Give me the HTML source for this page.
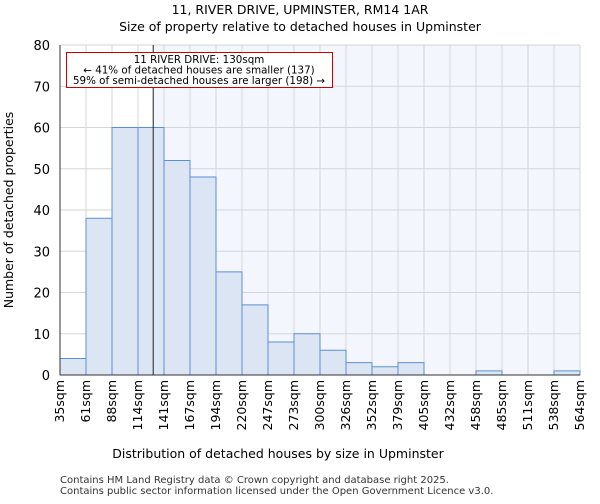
<!DOCTYPE html>
<html><head><meta charset="utf-8"><style>
body{margin:0;background:#fff;font-family:"DejaVu Sans","Liberation Sans",sans-serif}
</style></head><body>
<svg id="c" width="600" height="500" xmlns="http://www.w3.org/2000/svg" font-family="DejaVu Sans, Liberation Sans, sans-serif">
<text x="300" y="14" text-anchor="middle" font-size="12.5">11, RIVER DRIVE, UPMINSTER, RM14 1AR</text>
<text x="300" y="31" text-anchor="middle" font-size="12.5">Size of property relative to detached houses in Upminster</text>
<g id="plot"></g>
<text x="278" y="458" text-anchor="middle" font-size="12.5">Distribution of detached houses by size in Upminster</text>
<text transform="translate(13,210) rotate(-90)" text-anchor="middle" font-size="12.5">Number of detached properties</text>
<text x="60" y="483" font-size="10" fill="#333">Contains HM Land Registry data © Crown copyright and database right 2025.</text>
<text x="60" y="494" font-size="10" fill="#333">Contains public sector information licensed under the Open Government Licence v3.0.</text>
</svg>
<script>
const binLabels=["35sqm","61sqm","88sqm","114sqm","141sqm","167sqm","194sqm","220sqm","247sqm","273sqm","300sqm","326sqm","352sqm","379sqm","405sqm","432sqm","458sqm","485sqm","511sqm","538sqm","564sqm"];
const counts=[4,38,60,60,52,48,25,17,8,10,6,3,2,3,0,0,1,0,0,1];
const yTicks=[0,10,20,30,40,50,60,70,80];
const subjectSize=130;
const binEdges=[35,61.5,88,114.5,141,167.5,194,220.5,247,273.5,300,326.5,353,379.5,406,432.5,459,485.5,512,538.5,565];
const L=60,R=580,T=45,B=375,yMax=80;
const n=counts.length,bw=(R-L)/n;
const xi=i=>L+i*bw;
const y=v=>B-(v/yMax)*(B-T);
function xv(s){for(let i=0;i<n;i++){if(s<=binEdges[i+1])return xi(i)+(s-binEdges[i])/(binEdges[i+1]-binEdges[i])*bw;}return R;}
const g=document.getElementById('plot');const NS="http://www.w3.org/2000/svg";
function mk(t,a){const e=document.createElementNS(NS,t);for(const k in a)e.setAttribute(k,a[k]);g.appendChild(e);return e;}
const sx=xv(subjectSize);
let e=mk('rect',{x:L,y:T,width:R-L,height:B-T,fill:'#fff'});


e=mk('rect',{x:sx,y:T,width:R-sx,height:B-T,fill:'#f3f6fd'});


for(let i=0;i<=n;i++){e=mk('line',{x1:xi(i),x2:xi(i),y1:T,y2:B,stroke:'#d6d6d6','stroke-width':1});

}
yTicks.forEach(t=>{e=mk('line',{x1:L,x2:R,y1:y(t),y2:y(t),stroke:'#d6d6d6','stroke-width':1});


e=mk('text',{x:L-10,y:y(t)+5,'text-anchor':'end','font-size':13});e.textContent=t;

});
counts.forEach((c,i)=>{if(c<=0)return;e=mk('rect',{x:xi(i),y:y(c),width:bw,height:B-y(c),fill:'#dce5f4',stroke:'#5b8fd4','stroke-width':1});

});
binLabels.forEach((l,i)=>{e=mk('text',{transform:`translate(${xi(i)+4},380) rotate(-90)`,'text-anchor':'end','font-size':12.5});e.textContent=l;

});
e=mk('line',{x1:L,x2:L,y1:T,y2:B,stroke:'#333'});


e=mk('line',{x1:L,x2:R,y1:B,y2:B,stroke:'#333'});


e=mk('line',{x1:sx,x2:sx,y1:T,y2:B,stroke:'#222','stroke-width':1});


e=mk('rect',{x:66.5,y:52.5,width:266,height:35,fill:'#fff',stroke:'#c00','stroke-width':1});


["11 RIVER DRIVE: 130sqm","← 41% of detached houses are smaller (137)","59% of semi-detached houses are larger (198) →"].forEach((s,i)=>{e=mk('text',{x:199,y:63+i*10.5,'text-anchor':'middle','font-size':10.3});e.textContent=s;

});
</script>
</body></html>
